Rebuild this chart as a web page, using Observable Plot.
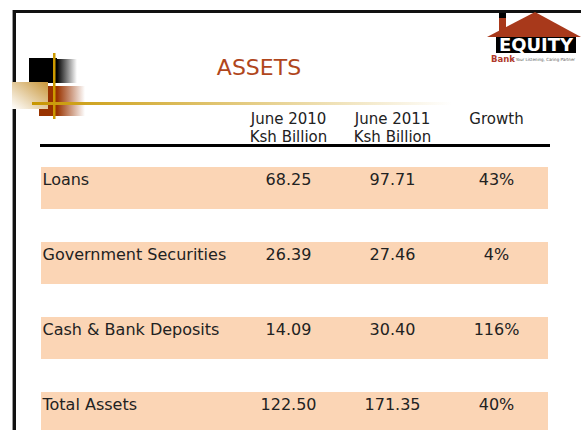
<!DOCTYPE html>
<html>
<head>
<meta charset="utf-8">
<script src="https://cdn.jsdelivr.net/npm/d3@7"></script>
<script src="https://cdn.jsdelivr.net/npm/@observablehq/plot@0.6"></script>
<style>
  html, body { margin: 0; padding: 0; background: #fff; }
  #slide { position: relative; width: 581px; height: 430px; overflow: hidden; background: #fff; }
  #slide > svg { position: absolute; left: 0; top: 0; }
</style>
</head>
<body>
<div id="slide">
<svg id="decor" width="581" height="430" xmlns="http://www.w3.org/2000/svg">
  <defs>
    <linearGradient id="blackFade" x1="0" y1="0" x2="1" y2="0">
      <stop offset="0" stop-color="#000"/><stop offset="1" stop-color="#fff"/>
    </linearGradient>
    <linearGradient id="brownFade" x1="0" y1="0" x2="1" y2="0">
      <stop offset="0" stop-color="#993300"/><stop offset="1" stop-color="#fff"/>
    </linearGradient>
    <linearGradient id="tanFade" x1="1" y1="0" x2="0" y2="1">
      <stop offset="0" stop-color="#c8963a"/><stop offset="1" stop-color="#fff"/>
    </linearGradient>
    <linearGradient id="goldFade" x1="0" y1="0" x2="1" y2="0">
      <stop offset="0" stop-color="#c89600"/><stop offset="1" stop-color="#fff"/>
    </linearGradient>
  </defs>
  <!-- slide border -->
  <rect x="12" y="10" width="1" height="420" fill="#999"/>
  <rect x="13" y="10" width="568" height="3" fill="#111"/>
  <rect x="13" y="10" width="3" height="420" fill="#111"/>
  <!-- corner ornament -->
  <rect x="29" y="58" width="28" height="25" fill="#000"/>
  <rect x="57" y="59" width="20" height="24" fill="url(#blackFade)"/>
  <rect x="39" y="86" width="18" height="30" fill="#993300"/>
  <rect x="57" y="86" width="28" height="30" fill="url(#brownFade)"/>
  <rect x="12" y="82" width="36" height="27" fill="url(#tanFade)"/>
  <rect x="53" y="53" width="2.5" height="66" fill="#cc9900"/>
  <rect x="32" y="102" width="420" height="3" fill="url(#goldFade)"/>
  <!-- title -->
  <text x="259" y="75" text-anchor="middle" font-family="DejaVu Sans" font-size="22" fill="#b0461c">ASSETS</text>
  <!-- logo -->
  <rect x="496" y="35" width="80" height="18" fill="#000"/>
  <rect x="499" y="14" width="7" height="20" fill="#a8391b"/>
  <rect x="499" y="13" width="7" height="5" fill="#000"/>
  <polygon points="487,37 535,12 581,37" fill="#a8391b"/>
  <text x="536" y="51" text-anchor="middle" font-family="DejaVu Sans" font-weight="bold" font-size="18" fill="#fff">EQUITY</text>
  <text x="491" y="62" font-family="DejaVu Sans" font-weight="bold" font-size="8.5" fill="#b0392b">Bank</text>
  <text x="512" y="61" font-family="DejaVu Sans" font-size="4.3" fill="#555" textLength="63" lengthAdjust="spacingAndGlyphs">• Your Listening, Caring Partner</text>
</svg>
</div>
<script>
// ---- data ----
const categories = ["Loans", "Government Securities", "Cash & Bank Deposits", "Total Assets"];
const june2010 = [68.25, 26.39, 14.09, 122.50];
const june2011 = [97.71, 27.46, 30.40, 171.35];
const growthPct = [43, 4, 116, 40];
const columns = ["June 2010", "June 2011", "Growth"];
const columnLabels = ["June 2010\nKsh Billion", "June 2011\nKsh Billion", "Growth"];

// tidy table built from the arrays
const cells = categories.flatMap((c, i) => [
  {row: c, col: columns[0], text: june2010[i].toFixed(2)},
  {row: c, col: columns[1], text: june2011[i].toFixed(2)},
  {row: c, col: columns[2], text: growthPct[i] + "%"}
]);

const textColor = "#222";

const chart = Plot.plot({
  width: 581,
  height: 430,
  marginTop: 145,
  marginLeft: 41,
  marginRight: 33,
  marginBottom: 0,
  style: {fontFamily: "DejaVu Sans", fontSize: "16px", background: "transparent", overflow: "visible"},
  x: {type: "point", domain: columns, range: [287, 496], padding: 0, axis: null},
  y: {type: "band", domain: categories, range: [167, 434], paddingInner: 0.44, paddingOuter: 0, align: 0, axis: null},
  marks: [
    Plot.cell(categories, {y: d => d, fill: "#fbd5b5"}),
    Plot.frame({anchor: "top", stroke: "#000", strokeWidth: 3}),
    Plot.text(columns, {x: d => d, text: (d, i) => columnLabels[i], frameAnchor: "top", lineAnchor: "top", dy: -34, lineHeight: 1.17, fill: textColor, fontSize: 15}),
    Plot.text(categories, {y: d => d, text: d => d, frameAnchor: "left", textAnchor: "start", lineAnchor: "bottom", dx: 1, dy: -4, fill: textColor, fontSize: 16}),
    Plot.text(cells, {x: "col", y: "row", text: "text", lineAnchor: "bottom", dy: -4, fill: textColor, fontSize: 16})
  ]
});
document.getElementById("slide").appendChild(chart);
</script>
</body>
</html>
